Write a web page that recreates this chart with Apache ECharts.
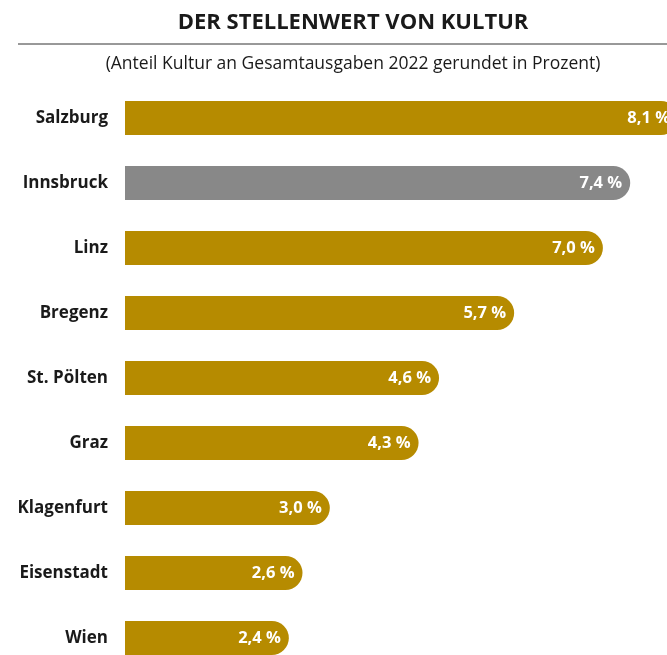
<!DOCTYPE html>
<html>
<head>
<meta charset="utf-8">
<script src="https://cdn.jsdelivr.net/npm/echarts@6/dist/echarts.min.js"></script>
<style>
html,body{margin:0;padding:0;background:#fff;overflow:hidden;}
#chart{width:700px;height:700px;}
</style>
</head>
<body>
<div id="chart"></div>
<script>
const categories = ['Salzburg','Innsbruck','Linz','Bregenz','St. Pölten','Graz','Klagenfurt','Eisenstadt','Wien'];
const values = [8.1, 7.4, 7.0, 5.7, 4.6, 4.3, 3.0, 2.6, 2.4];
const highlighted = 'Innsbruck';

const GOLD = '#B68B00';
const GREY = '#888888';
const FONT = '"Open Sans", "Noto Sans", sans-serif';

const chart = echarts.init(document.getElementById('chart'), null, {renderer:'canvas'});
chart.setOption({
  animation: false,
  title: [
    {
      text: 'DER STELLENWERT VON KULTUR',
      left: 348, top: 7, textAlign: 'center',
      textStyle: {fontFamily: FONT, fontWeight: 'bold', fontSize: 22, color: '#1a1a1a'}
    },
    {
      text: '(Anteil Kultur an Gesamtausgaben 2022 gerundet in Prozent)',
      left: 348, top: 50, textAlign: 'center',
      textStyle: {fontFamily: FONT, fontWeight: 'normal', fontSize: 17.5, color: '#1a1a1a'}
    }
  ],
  graphic: [
    {type:'line', shape:{x1:18, y1:44, x2:700, y2:44}, style:{stroke:'#333', lineWidth:1}}
  ],
  grid: {left:125, width:553, top:85.5, height:585, containLabel:false},
  xAxis: {
    type:'value', min:0, max:8.1,
    show:false
  },
  yAxis: {
    type:'category', data: categories, inverse:true,
    axisLine:{show:false}, axisTick:{show:false}, splitLine:{show:false},
    axisLabel:{
      margin:17, fontFamily: FONT, fontWeight:'bold', fontSize:17, color:'#1a1a1a'
    }
  },
  series: [{
    type:'bar',
    clip:false,
    data: values.map((v,i)=>({
      value:v,
      itemStyle:{color: categories[i]===highlighted ? GREY : GOLD}
    })),
    barWidth:34,
    itemStyle:{borderRadius:[0,17,17,0]},
    label:{
      show:true, position:'insideRight', distance:8,
      color:'#fff', fontFamily: FONT, fontWeight:'bold', fontSize:16.5,
      formatter: p => p.value.toFixed(1).replace('.', ',') + ' %'
    }
  }]
});
</script>
</body>
</html>
